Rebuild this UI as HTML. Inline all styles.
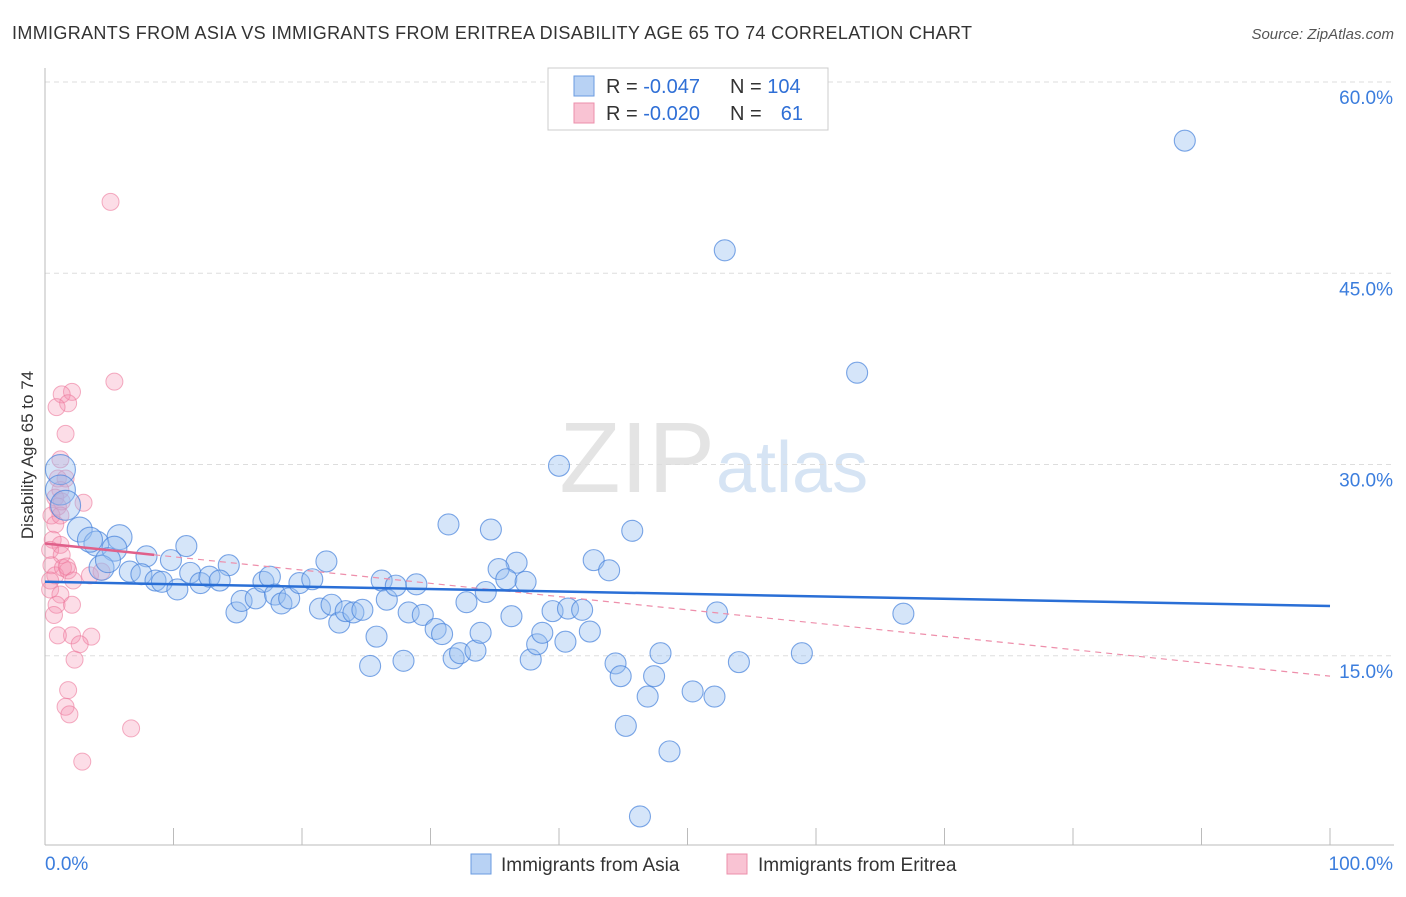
<!DOCTYPE html>
<html><head><meta charset="utf-8"><style>
body{margin:0;background:#fff;font-family:"Liberation Sans",sans-serif}
svg text{font-family:"Liberation Sans",sans-serif}
</style></head><body>
<svg id="c" width="1406" height="892" xmlns="http://www.w3.org/2000/svg">
<text x="12" y="39" font-size="18" fill="#333" textLength="960">IMMIGRANTS FROM ASIA VS IMMIGRANTS FROM ERITREA DISABILITY AGE 65 TO 74 CORRELATION CHART</text>
<text x="1394" y="39" font-size="15" fill="#555" font-style="italic" text-anchor="end">Source: ZipAtlas.com</text>
<text x="715" y="492" font-size="100" fill="#e4e4e4" text-anchor="end" font-family="Liberation Serif">ZIP</text>
<text x="716" y="492" font-size="72" fill="#d6e4f4">atlas</text>
<text x="33" y="455" font-size="17" fill="#333" text-anchor="middle" transform="rotate(-90 33 455)">Disability Age 65 to 74</text>
<g id="grid"></g><g id="axes"></g><g id="pink"></g><g id="blue"></g><g id="trends"></g>
<g>
<rect x="548" y="68" width="280" height="62" fill="#fff" stroke="#ccc"/>
<rect x="574" y="76" width="20" height="20" fill="#b8d2f4" stroke="#6a9be0"/>
<rect x="574" y="103" width="20" height="20" fill="#f9c3d3" stroke="#ec8fab"/>
<text x="606" y="93" font-size="20" fill="#333">R = <tspan fill="#2f6fd6">-0.047</tspan></text>
<text x="730" y="93" font-size="20" fill="#333">N = <tspan fill="#2f6fd6">104</tspan></text>
<text x="606" y="120" font-size="20" fill="#333">R = <tspan fill="#2f6fd6">-0.020</tspan></text>
<text x="730" y="120" font-size="20" fill="#333">N = </text>
<text x="803" y="120" font-size="20" fill="#2f6fd6" text-anchor="end">61</text>
</g>
<g>
<rect x="471" y="854" width="20" height="20" fill="#b8d2f4" stroke="#6a9be0"/>
<text x="501" y="871" font-size="19" fill="#333">Immigrants from Asia</text>
<rect x="727" y="854" width="20" height="20" fill="#f9c3d3" stroke="#ec8fab"/>
<text x="758" y="871" font-size="19" fill="#333">Immigrants from Eritrea</text>
</g>
</svg>
<script>
const yTicks=[15,30,45,60];
const yTickLabels=["15.0%","30.0%","45.0%","60.0%"];
const xTickLabels=["0.0%","100.0%"];
const blueX=[88.7,52.9,63.2,40.0,31.4,34.7,45.7,42.7,43.9,36.7,35.3,21.9,14.3,9.8,11.0,5.8,7.9,1.2,1.2,1.6,2.7,4.0,5.4,6.6,7.5,8.6,9.1,10.3,11.3,12.1,12.8,13.6,14.9,15.3,16.4,17.0,17.5,17.9,18.4,19.0,19.8,20.8,21.4,22.3,22.9,23.4,24.0,24.7,25.3,25.8,26.2,26.6,27.3,27.9,28.3,28.9,29.4,30.4,30.9,31.8,32.3,32.8,33.5,33.9,34.3,35.9,36.3,37.4,37.8,38.3,38.7,39.5,40.5,40.7,41.8,42.4,44.4,44.8,45.2,46.3,46.9,47.4,47.9,48.6,50.4,52.1,52.3,54.0,58.9,66.8,4.4,4.9,3.5];
const blueY=[55.4,46.8,37.2,29.9,25.3,24.9,24.8,22.5,21.7,22.3,21.8,22.4,22.1,22.5,23.6,24.3,22.8,29.6,28.0,26.8,24.9,23.8,23.4,21.6,21.4,20.9,20.8,20.2,21.5,20.7,21.2,20.9,18.4,19.3,19.5,20.8,21.2,19.8,19.1,19.5,20.7,21.0,18.7,19.0,17.6,18.5,18.4,18.6,14.2,16.5,20.9,19.4,20.5,14.6,18.4,20.6,18.2,17.1,16.7,14.8,15.2,19.2,15.4,16.8,20.0,21.0,18.1,20.8,14.7,15.9,16.8,18.5,16.1,18.7,18.6,16.9,14.4,13.4,9.5,2.4,11.8,13.4,15.2,7.5,12.2,11.8,18.4,14.5,15.2,18.3,21.9,22.5,24.1];
const pinkX=[5.1,5.4,2.1,1.3,1.8,0.9,1.6,1.2,1.0,1.6,1.2,0.8,1.3,1.0,3.0,0.5,1.2,0.8,0.6,1.2,0.4,1.3,0.5,0.8,1.4,1.8,0.4,1.7,2.2,0.4,3.5,4.4,1.2,0.9,2.1,0.7,2.1,3.6,1.0,2.7,2.3,1.8,1.6,1.9,6.7,2.9];
const pinkY=[50.6,36.5,35.7,35.5,34.8,34.5,32.4,30.4,28.9,28.9,28.0,27.4,27.1,26.7,27.0,26.0,26.0,25.3,24.1,23.7,23.3,22.9,22.1,21.3,21.9,21.7,20.9,22.0,20.9,20.2,21.3,21.6,19.8,19.0,19.0,18.2,16.6,16.5,16.6,15.9,14.7,12.3,11.0,10.4,9.3,6.7];
const blueTrend=[20.8,18.9];
const pinkTrendSolid=[0,8.5];
const pinkTrend=[23.8,13.4];
const NS="http://www.w3.org/2000/svg";
const X0=45,X1=1330,Y0=847,YS=765/60;
function sx(v){return X0+(X1-X0)*v/100}
function sy(v){return Y0-v*YS}
function mk(p,t,a){const e=document.createElementNS(NS,t);for(const k in a)e.setAttribute(k,a[k]);p.appendChild(e);return e}
const grid=document.getElementById('grid'),axes=document.getElementById('axes');
yTicks.forEach((t,i)=>{
 const l=mk(grid,'line',{x1:X0,x2:1394,y1:sy(t),y2:sy(t),stroke:'#ddd','stroke-dasharray':'5,4'});
 
 
 const tx=mk(axes,'text',{x:1393,y:sy(t)+22,'font-size':19,fill:'#3b7ddd','text-anchor':'end'});
 tx.textContent=yTickLabels[i];
 
 
});
const ax=mk(axes,'line',{x1:X0,x2:1394,y1:845,y2:845,stroke:'#bbb'});


const ay=mk(axes,'line',{x1:X0,x2:X0,y1:68,y2:845,stroke:'#bbb'});


for(let i=1;i<=10;i++){
 const t=mk(axes,'line',{x1:sx(i*10),x2:sx(i*10),y1:828,y2:845,stroke:'#bbb'});
 
 
}
[[0,'start',45],[100,'end',1393]].forEach((d,i)=>{
 const t=mk(axes,'text',{x:d[2],y:870,'font-size':19,fill:'#3b7ddd','text-anchor':d[1]});
 t.textContent=xTickLabels[i];
 
 
});
const pg=document.getElementById('pink');
pinkX.forEach((x,i)=>{
 const c=mk(pg,'circle',{cx:sx(x),cy:sy(pinkY[i]),r:8.5,fill:'rgba(244,143,177,0.3)',stroke:'rgba(236,120,155,0.6)','stroke-width':1});
 
 
});
const bg=document.getElementById('blue');
blueX.forEach((x,i)=>{
 const r=x<6?(x<2?15:12.5):10.5;
 const c=mk(bg,'circle',{cx:sx(x),cy:sy(blueY[i]),r:r,fill:'rgba(150,190,240,0.4)',stroke:'rgba(70,130,220,0.7)','stroke-width':1.1});
 
 
});
const tg=document.getElementById('trends');
const pf=v=>pinkTrend[0]+(pinkTrend[1]-pinkTrend[0])*v/100;
const pd=mk(tg,'line',{x1:sx(pinkTrendSolid[1]),y1:sy(pf(pinkTrendSolid[1])),x2:sx(100),y2:sy(pinkTrend[1]),stroke:'#ee8fab','stroke-width':1.2,'stroke-dasharray':'6,5'});


const ps=mk(tg,'line',{x1:sx(pinkTrendSolid[0]),y1:sy(pf(pinkTrendSolid[0])),x2:sx(pinkTrendSolid[1]),y2:sy(pf(pinkTrendSolid[1])),stroke:'#e0608a','stroke-width':2.5});


const bt=mk(tg,'line',{x1:sx(0),y1:sy(blueTrend[0]),x2:sx(100),y2:sy(blueTrend[1]),stroke:'#2a6fd6','stroke-width':2.5});


</script>
</body></html>
